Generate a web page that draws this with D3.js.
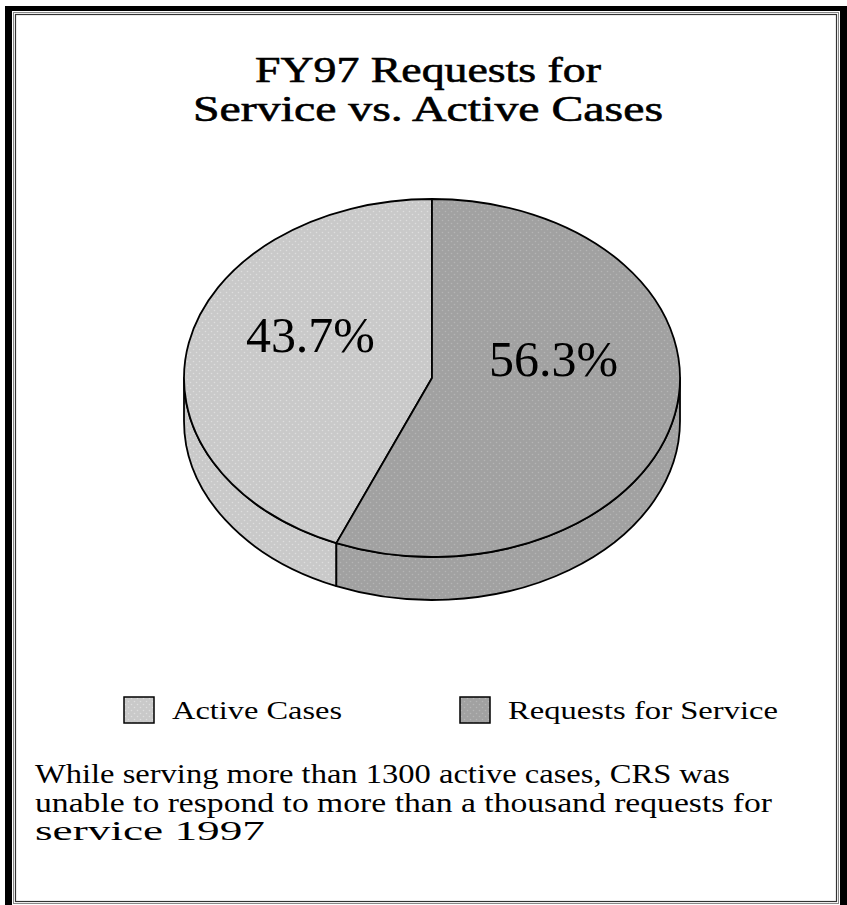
<!DOCTYPE html>
<html>
<head>
<meta charset="utf-8">
<script src="https://cdn.jsdelivr.net/npm/d3@7"></script>
<style>
  body { margin: 0; background: #fff; }
  svg { display: block; }
  text { font-family: "Liberation Serif", "Times New Roman", serif; fill: #000; }
  .title { stroke: #000; stroke-width: 0.6px; }
</style>
</head>
<body>
<svg id="chart" width="847" height="905"></svg>
<script>
var titleLines = ["FY97 Requests for", "Service vs. Active Cases"];
var categories = ["Active Cases", "Requests for Service"];
var values = [43.7, 56.3];
var noteLines = [
  "While serving more than 1300 active cases, CRS was",
  "unable to respond to more than a thousand requests for",
  "service 1997"
];

var svg = d3.select("#chart");
var W = 847, H = 905;

// frame
svg.append("rect").attr("x", 5).attr("y", 6).attr("width", W).attr("height", H)
  .attr("fill", "#000");
svg.append("rect").attr("x", 12).attr("y", 11).attr("width", 828).attr("height", H)
  .attr("fill", "#fff");
svg.append("rect").attr("x", 13.5).attr("y", 12.5).attr("width", 825).attr("height", 891)
  .attr("fill", "none").attr("stroke", "#888").attr("stroke-width", 1);
svg.append("rect").attr("x", 15.5).attr("y", 14.5).attr("width", 821).attr("height", 887)
  .attr("fill", "none").attr("stroke", "#333").attr("stroke-width", 1.2);

// dotted fills
var color = d3.scaleOrdinal().domain(categories).range(["#c9c9c9", "#a1a1a1"]);
var dotColor = d3.scaleOrdinal().domain(categories).range(["#dedede", "#b5b5b5"]);
var defs = svg.append("defs");
categories.forEach(function (c, i) {
  var p = defs.append("pattern").attr("id", "fill" + i)
    .attr("width", 6).attr("height", 6).attr("patternUnits", "userSpaceOnUse");
  p.append("rect").attr("width", 6).attr("height", 6).attr("fill", color(c));
  p.append("circle").attr("cx", 1.5).attr("cy", 1.5).attr("r", 0.8).attr("fill", dotColor(c));
  p.append("circle").attr("cx", 4.5).attr("cy", 4.5).attr("r", 0.8).attr("fill", dotColor(c));
});

// title
svg.selectAll(".title").data(titleLines).enter().append("text").attr("class", "title")
  .attr("x", 428).attr("y", function (d, i) { return 82 + i * 39; })
  .attr("text-anchor", "middle").style("font-size", "36px")
  .attr("textLength", function (d, i) { return [346, 470][i]; })
  .attr("lengthAdjust", "spacingAndGlyphs")
  .text(function (d) { return d; });

// 3d pie
var cx = 432, cy = 378, rx = 248, ry = 179, h = 43;
var total = d3.sum(values);
var a0 = -2 * Math.PI * values[0] / total;
var pie = d3.pie().sort(null).value(function (d) { return d.value; })
  .startAngle(a0).endAngle(a0 + 2 * Math.PI);
var arcs = pie(values.map(function (v, i) { return { name: categories[i], value: v }; }))
  .map(function (d, i) { d.idx = i; return d; });

function px(a, r) { return r * Math.sin(a); }
function py(a, r) { return -r * Math.cos(a); }

function pieTop(d) {
  var s = d.startAngle, e = d.endAngle;
  var large = (e - s > Math.PI) ? 1 : 0;
  return ["M", 0, 0, "L", px(s, rx), py(s, ry), "A", rx, ry, 0, large, 1, px(e, rx), py(e, ry), "Z"].join(" ");
}

function pieOuter(d) {
  var s = d.startAngle, e = d.endAngle;
  if (s < 0) { s += 2 * Math.PI; e += 2 * Math.PI; }
  s = Math.max(s, Math.PI / 2); e = Math.min(e, 3 * Math.PI / 2);
  if (e <= s) return "M 0 0";
  var sx = px(s, rx), sy = py(s, ry), ex = px(e, rx), ey = py(e, ry);
  return ["M", sx, sy, "A", rx, ry, 0, 0, 1, ex, ey, "L", ex, ey + h,
    "A", rx, ry, 0, 0, 0, sx, sy + h, "Z"].join(" ");
}

var g = svg.append("g").attr("transform", "translate(" + cx + "," + cy + ")");

g.selectAll(".outerSlice").data(arcs).enter().append("path").attr("class", "outerSlice")
  .attr("d", pieOuter)
  .attr("fill", function (d) { return "url(#fill" + d.idx + ")"; })
  .attr("stroke", "#000").attr("stroke-width", 1.8).attr("stroke-linejoin", "round");

g.selectAll(".topSlice").data(arcs).enter().append("path").attr("class", "topSlice")
  .attr("d", pieTop)
  .attr("fill", function (d) { return "url(#fill" + d.idx + ")"; })
  .attr("stroke", "#000").attr("stroke-width", 1.8).attr("stroke-linejoin", "round");

g.selectAll(".percent").data(arcs).enter().append("text").attr("class", "percent")
  .attr("x", function (d) { return px((d.startAngle + d.endAngle) / 2, 0.5 * rx); })
  .attr("y", function (d) { return py((d.startAngle + d.endAngle) / 2, 0.35 * ry) - 14; })
  .attr("text-anchor", "middle").style("font-size", "50px")
  .attr("textLength", 129).attr("lengthAdjust", "spacingAndGlyphs")
  .text(function (d) { return (100 * d.value / total).toFixed(1) + "%"; });

// legend
var legendX = [124, 460], legendW = [170, 270];
var leg = svg.selectAll(".legend").data(categories).enter().append("g").attr("class", "legend")
  .attr("transform", function (d, i) { return "translate(" + legendX[i] + ",697)"; });
leg.append("rect").attr("width", 30).attr("height", 26)
  .attr("fill", function (d, i) { return "url(#fill" + i + ")"; })
  .attr("stroke", "#000").attr("stroke-width", 1.5);
leg.append("text").attr("x", 48).attr("y", 22).style("font-size", "26px")
  .attr("textLength", function (d, i) { return legendW[i]; })
  .attr("lengthAdjust", "spacingAndGlyphs")
  .text(function (d) { return d; });

// note
var noteW = [695, 737, 230];
svg.selectAll(".note").data(noteLines).enter().append("text").attr("class", "note")
  .attr("x", 35).attr("y", function (d, i) { return 783 + i * 28.5; })
  .style("font-size", "27px")
  .attr("textLength", function (d, i) { return noteW[i]; })
  .attr("lengthAdjust", "spacingAndGlyphs")
  .text(function (d) { return d; });
</script>
</body>
</html>
